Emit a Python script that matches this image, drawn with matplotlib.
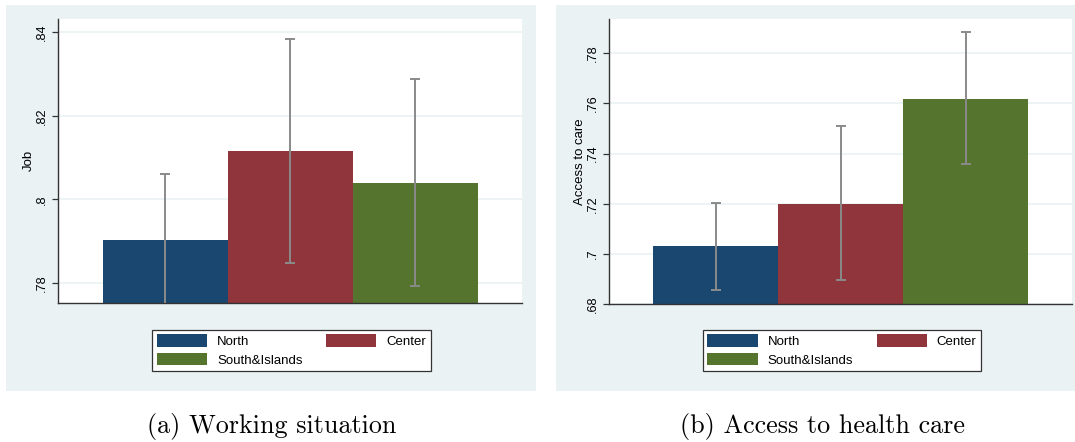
import numpy as np
import matplotlib
matplotlib.use("Agg")
import matplotlib.pyplot as plt
from matplotlib.patches import Patch

# regions and their colours
regions = ["North", "Center", "South&Islands"]
colors = ["#1A476F", "#90353B", "#55752F"]

# (a) working situation
job_mean = [0.7903, 0.8115, 0.8039]
job_lo = [0.7746, 0.7848, 0.7793]
job_hi = [0.8060, 0.8385, 0.8287]
job_ticks = [0.78, 0.80, 0.82, 0.84]
job_ticklabels = [".78", ".8", ".82", ".84"]

# (b) access to health care
care_mean = [0.7031, 0.7198, 0.7617]
care_lo = [0.6856, 0.6896, 0.7359]
care_hi = [0.7202, 0.7511, 0.7885]
care_ticks = [0.68, 0.70, 0.72, 0.74, 0.76, 0.78]
care_ticklabels = [".68", ".7", ".72", ".74", ".76", ".78"]

W, H = 1075, 442
bg = "#EAF2F3"
sans = "Liberation Sans"

fig = plt.figure(figsize=(W / 100, H / 100), dpi=100)
fig.patch.set_facecolor("white")


def px(x0, y0, x1, y1):
    # pixel box (top-left origin) -> figure fraction rect
    return [x0 / W, (H - y1) / H, (x1 - x0) / W, (y1 - y0) / H]


def panel(bg_box, ax_box, mean, lo, hi, ylim, ticks, ticklabels, ylabel,
          caption, cap_x, leg_x):
    back = fig.add_axes(px(*bg_box))
    back.set_facecolor(bg)
    back.set_xticks([])
    back.set_yticks([])
    for s in back.spines.values():
        s.set_visible(False)

    ax = fig.add_axes(px(*ax_box))
    ax.set_facecolor("white")
    x = np.arange(len(regions))
    mean = np.array(mean)
    err = [mean - np.array(lo), np.array(hi) - mean]
    ax.bar(x, mean - ylim[0], bottom=ylim[0], width=1.0, color=colors,
           linewidth=0, zorder=2)
    ax.errorbar(x, mean, yerr=err, fmt="none", ecolor="#8A8A8A",
                elinewidth=1.4, capsize=3.5, capthick=1.4, zorder=3)
    ax.set_xlim(-0.856, 2.852)
    ax.set_ylim(*ylim)
    ax.set_yticks(ticks)
    ax.set_yticklabels(ticklabels, rotation=90, va="center",
                       fontsize=9.2, family=sans)
    ax.set_xticks([])
    ax.yaxis.grid(True, color=bg, linewidth=1.2, zorder=0)
    ax.set_axisbelow(True)
    ax.tick_params(axis="y", length=4, width=0.9, color="#333333", pad=3)
    for side in ("top", "right"):
        ax.spines[side].set_visible(False)
    for side in ("left", "bottom"):
        ax.spines[side].set_color("#333333")
        ax.spines[side].set_linewidth(1.0)
    ax.set_ylabel(ylabel, fontsize=9.5, family=sans, labelpad=1.0)

    handles = [Patch(facecolor=c, edgecolor="none") for c in colors]
    order = [0, 2, 1]
    leg = fig.legend([handles[i] for i in order], [regions[i] for i in order],
                     ncol=2, loc="center",
                     bbox_to_anchor=(leg_x / W, (H - 350.5) / H),
                     prop={"family": sans, "size": 9.5},
                     handlelength=3.8, handleheight=1.1, handletextpad=0.75,
                     columnspacing=1.8, labelspacing=0.35, borderpad=0.35,
                     borderaxespad=0,
                     fancybox=False, framealpha=1, edgecolor="#333333")
    leg.get_frame().set_linewidth(0.9)

    fig.text(cap_x / W, (H - 426) / H, caption, ha="center", va="center",
             family="cmr10", fontsize=18.8)


panel((6, 5, 536, 391), (58, 18.5, 522, 303), job_mean, job_lo, job_hi,
      (0.7752, 0.8433), job_ticks, job_ticklabels, "Job",
      "(a) Working situation", 272, 291.5)
panel((556, 5, 1075, 391), (609, 18.5, 1072, 304), care_mean, care_lo, care_hi,
      (0.68, 0.7939), care_ticks, care_ticklabels, "Access to care",
      "(b) Access to health care", 822, 842)

fig.savefig("out.png", dpi=100)
